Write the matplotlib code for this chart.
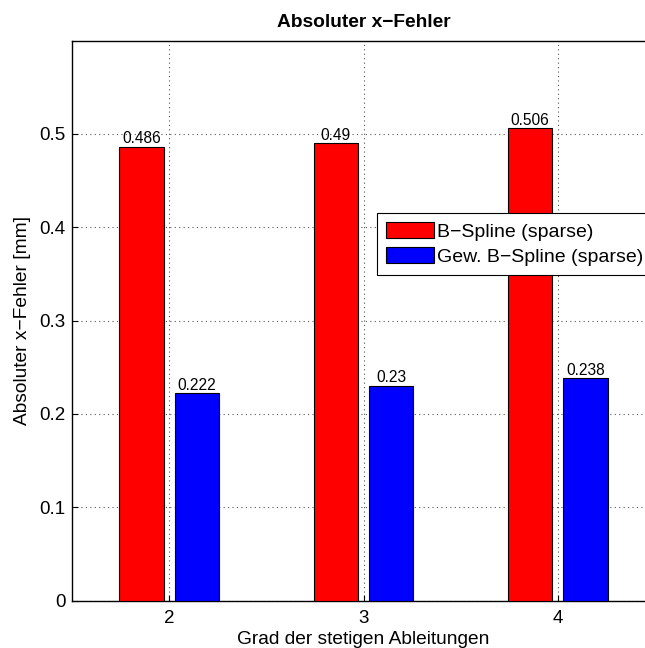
import numpy as np
import matplotlib
matplotlib.use("Agg")
import matplotlib.pyplot as plt

plt.rcParams['font.family'] = ['Liberation Sans', 'DejaVu Sans']

# Data
grades = [2, 3, 4]
bspline = [0.486, 0.49, 0.506]
gew_bspline = [0.222, 0.23, 0.238]
bspline_labels = ["0.486", "0.49", "0.506"]
gew_labels = ["0.222", "0.23", "0.238"]
series_names = ["B\u2212Spline (sparse)", "Gew. B\u2212Spline (sparse)"]
yticks = [0, 0.1, 0.2, 0.3, 0.4, 0.5]

W, H = 645, 648
fig = plt.figure(figsize=(W / 100, H / 100), dpi=100)
ax = fig.add_axes([72 / W, (H - 600.5) / H, 583 / W, 560 / H])

x = np.array(grades, dtype=float)
bw = 0.228
off = 0.143
ax.bar(x - off, bspline, width=bw, color=(1, 0, 0), edgecolor='black',
       linewidth=0.8, label=series_names[0], zorder=3)
ax.bar(x + off, gew_bspline, width=bw, color=(0, 0, 1), edgecolor='black',
       linewidth=0.8, label=series_names[1], zorder=3)

for xi, v, s in zip(x - off, bspline, bspline_labels):
    ax.text(xi, v + 0.0005, s, ha='center', va='bottom', fontsize=11.2, zorder=4)
for xi, v, s in zip(x + off, gew_bspline, gew_labels):
    ax.text(xi, v + 0.0005, s, ha='center', va='bottom', fontsize=11.2, zorder=4)

ax.set_xlim(1.5, 4.5)
ax.set_ylim(0, 0.6)
ax.set_xticks(grades)
ax.set_xticklabels([str(g) for g in grades])
ax.set_yticks(yticks)
ax.set_yticklabels(["0" if t == 0 else f"{t:.1f}" for t in yticks])
ax.tick_params(direction='in', length=4, labelsize=13.5, width=0.8)
ax.tick_params(axis='x', pad=6.5)
ax.tick_params(axis='y', pad=4.5)
ax.grid(True, linestyle=(0, (1, 3)), color='#555555', linewidth=0.8, zorder=0)
for sp in ax.spines.values():
    sp.set_linewidth(1.0)

ax.set_title("Absoluter x\u2212Fehler", fontsize=13.8, fontweight='bold', pad=10)
ax.set_xlabel("Grad der stetigen Ableitungen", fontsize=13.8, labelpad=3)
ax.set_ylabel("Absoluter x\u2212Fehler [mm]", fontsize=13.8, labelpad=6)

leg = ax.legend(loc='upper left', bbox_to_anchor=(377 / W, 1 - 213 / H),
                bbox_transform=fig.transFigure, fontsize=14, frameon=True,
                fancybox=False, edgecolor='black', framealpha=1,
                borderpad=0.45, labelspacing=0.35, handlelength=2.5,
                handleheight=0.9, handletextpad=0.15, borderaxespad=0)
leg.get_frame().set_linewidth(0.8)

fig.savefig("out.png", dpi=100)
